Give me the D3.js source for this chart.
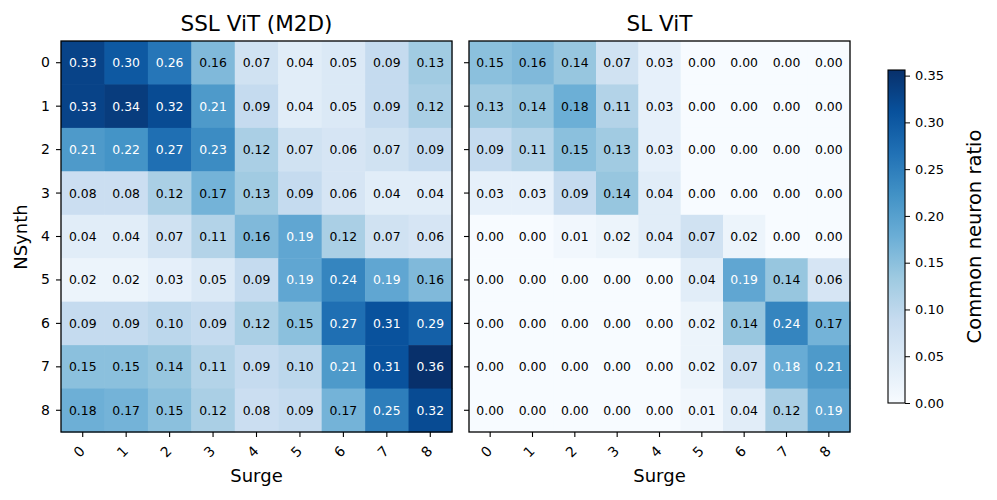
<!DOCTYPE html>
<html>
<head>
<meta charset="utf-8">
<script src="https://cdn.jsdelivr.net/npm/d3@7"></script>
<style>
  body { margin: 0; background: #fff; }
  text { font-family: "DejaVu Sans", sans-serif; }
</style>
</head>
<body>
<div id="chart"></div>
<script>
// Surge index (columns) vs NSynth index (rows)
const surgeLabels = ["0", "1", "2", "3", "4", "5", "6", "7", "8"];
const nsynthLabels = ["0", "1", "2", "3", "4", "5", "6", "7", "8"];

const sslVit = [
  [0.33, 0.30, 0.26, 0.16, 0.07, 0.04, 0.05, 0.09, 0.13],
  [0.33, 0.34, 0.32, 0.21, 0.09, 0.04, 0.05, 0.09, 0.12],
  [0.21, 0.22, 0.27, 0.23, 0.12, 0.07, 0.06, 0.07, 0.09],
  [0.08, 0.08, 0.12, 0.17, 0.13, 0.09, 0.06, 0.04, 0.04],
  [0.04, 0.04, 0.07, 0.11, 0.16, 0.19, 0.12, 0.07, 0.06],
  [0.02, 0.02, 0.03, 0.05, 0.09, 0.19, 0.24, 0.19, 0.16],
  [0.09, 0.09, 0.10, 0.09, 0.12, 0.15, 0.27, 0.31, 0.29],
  [0.15, 0.15, 0.14, 0.11, 0.09, 0.10, 0.21, 0.31, 0.356],
  [0.176, 0.17, 0.15, 0.12, 0.08, 0.09, 0.17, 0.25, 0.32]
];

const slVit = [
  [0.15, 0.16, 0.14, 0.07, 0.03, 0.00, 0.00, 0.00, 0.00],
  [0.13, 0.14, 0.177, 0.11, 0.03, 0.00, 0.00, 0.00, 0.00],
  [0.09, 0.11, 0.15, 0.13, 0.03, 0.00, 0.00, 0.00, 0.00],
  [0.03, 0.03, 0.09, 0.14, 0.04, 0.00, 0.00, 0.00, 0.00],
  [0.00, 0.00, 0.01, 0.02, 0.04, 0.07, 0.02, 0.00, 0.00],
  [0.00, 0.00, 0.00, 0.00, 0.00, 0.04, 0.19, 0.14, 0.06],
  [0.00, 0.00, 0.00, 0.00, 0.00, 0.02, 0.14, 0.24, 0.17],
  [0.00, 0.00, 0.00, 0.00, 0.00, 0.02, 0.07, 0.181, 0.21],
  [0.00, 0.00, 0.00, 0.00, 0.00, 0.01, 0.04, 0.12, 0.19]
];

const cbTicks = [0, 0.05, 0.10, 0.15, 0.20, 0.25, 0.30, 0.35];

const width = 997, height = 500;
const vmax = 0.356;

// matplotlib "Blues" = linear through the 9 ColorBrewer stops
const bluesStops = ["#f7fbff", "#deebf7", "#c6dbef", "#9ecae1", "#6baed6",
                    "#4292c6", "#2171b5", "#08519c", "#08306b"];
const color = d3.scaleLinear()
  .domain(d3.range(9).map(i => i / 8 * vmax))
  .range(bluesStops)
  .interpolate(d3.interpolateRgb)
  .clamp(true);

const svg = d3.select("#chart").append("svg")
  .attr("width", width)
  .attr("height", height);

const mapTop = 41, mapBottom = 432;

function drawPanel(matrix, title, x0, x1, showYLabels) {
  const x = d3.scaleBand().domain(surgeLabels).range([x0, x1]);
  const y = d3.scaleBand().domain(nsynthLabels).range([mapTop, mapBottom]);

  const g = svg.append("g");

  const cells = [];
  matrix.forEach((row, i) => row.forEach((v, j) => cells.push({ r: i, c: j, v })));

  g.selectAll("rect.cell")
    .data(cells)
    .join("rect")
    .attr("class", "cell")
    .attr("x", d => x(surgeLabels[d.c]))
    .attr("y", d => y(nsynthLabels[d.r]))
    .attr("width", x.bandwidth() + 0.5)
    .attr("height", y.bandwidth() + 0.5)
    .attr("fill", d => color(d.v));

  g.selectAll("text.val")
    .data(cells)
    .join("text")
    .attr("class", "val")
    .attr("x", d => x(surgeLabels[d.c]) + x.bandwidth() / 2)
    .attr("y", d => y(nsynthLabels[d.r]) + y.bandwidth() / 2)
    .attr("dy", "0.36em")
    .attr("text-anchor", "middle")
    .style("font-size", "12.4px")
    .attr("fill", d => d.v > vmax / 2 ? "#fff" : "#000")
    .text(d => d.v.toFixed(2));

  // frame
  g.append("rect")
    .attr("x", x0).attr("y", mapTop)
    .attr("width", x1 - x0).attr("height", mapBottom - mapTop)
    .attr("fill", "none")
    .attr("stroke", "#000")
    .attr("stroke-width", 1.3);

  // x axis
  const xAxis = g.append("g")
    .attr("transform", `translate(0,${mapBottom})`)
    .call(d3.axisBottom(x).tickSize(5).tickPadding(3));
  xAxis.select(".domain").remove();
  xAxis.selectAll("line").attr("stroke-width", 1.1);
  xAxis.selectAll("text")
    .style("font-size", "14px")
    .attr("fill", "#000")
    .attr("text-anchor", "end")
    .attr("dy", null)
    .attr("y", 0)
    .attr("transform", "translate(3,20) rotate(-45)");

  // y axis
  const yAxis = g.append("g")
    .attr("transform", `translate(${x0},0)`)
    .call(d3.axisLeft(y).tickSize(5).tickPadding(6));
  yAxis.select(".domain").remove();
  yAxis.selectAll("line").attr("stroke-width", 1.1);
  yAxis.selectAll("text")
    .style("font-size", "14px")
    .attr("fill", "#000");
  if (!showYLabels) yAxis.selectAll("text").remove();

  svg.append("text")
    .attr("x", (x0 + x1) / 2)
    .attr("y", 31)
    .attr("text-anchor", "middle")
    .style("font-size", "21.5px")
    .text(title);

  svg.append("text")
    .attr("x", (x0 + x1) / 2)
    .attr("y", 482)
    .attr("text-anchor", "middle")
    .style("font-size", "18px")
    .text("Surge");
}

drawPanel(sslVit, "SSL ViT (M2D)", 61, 452, true);
drawPanel(slVit, "SL ViT", 469, 850, false);

svg.append("text")
  .attr("transform", "translate(27,237) rotate(-90)")
  .attr("text-anchor", "middle")
  .style("font-size", "18px")
  .text("NSynth");

// colorbar
const cbX = 888, cbW = 17, cbTop = 70, cbBottom = 403;
const cbScale = d3.scaleLinear().domain([0, vmax]).range([cbBottom, cbTop]);

const grad = svg.append("defs").append("linearGradient")
  .attr("id", "cbgrad")
  .attr("x1", 0).attr("y1", 1).attr("x2", 0).attr("y2", 0);
grad.selectAll("stop")
  .data(bluesStops)
  .join("stop")
  .attr("offset", (d, i) => i / 8)
  .attr("stop-color", d => d);

svg.append("rect")
  .attr("x", cbX).attr("y", cbTop)
  .attr("width", cbW).attr("height", cbBottom - cbTop)
  .attr("fill", "url(#cbgrad)")
  .attr("stroke", "#000")
  .attr("stroke-width", 1.1);

const cbAxis = svg.append("g")
  .attr("transform", `translate(${cbX + cbW},0)`)
  .call(d3.axisRight(cbScale).tickValues(cbTicks).tickFormat(d3.format(".2f")).tickSize(5).tickPadding(5));
cbAxis.select(".domain").remove();
cbAxis.selectAll("text").style("font-size", "13px").attr("fill", "#000");

svg.append("text")
  .attr("transform", `translate(981,${(cbTop + cbBottom) / 2}) rotate(-90)`)
  .attr("text-anchor", "middle")
  .style("font-size", "19.5px")
  .text("Common neuron ratio");
</script>
</body>
</html>
